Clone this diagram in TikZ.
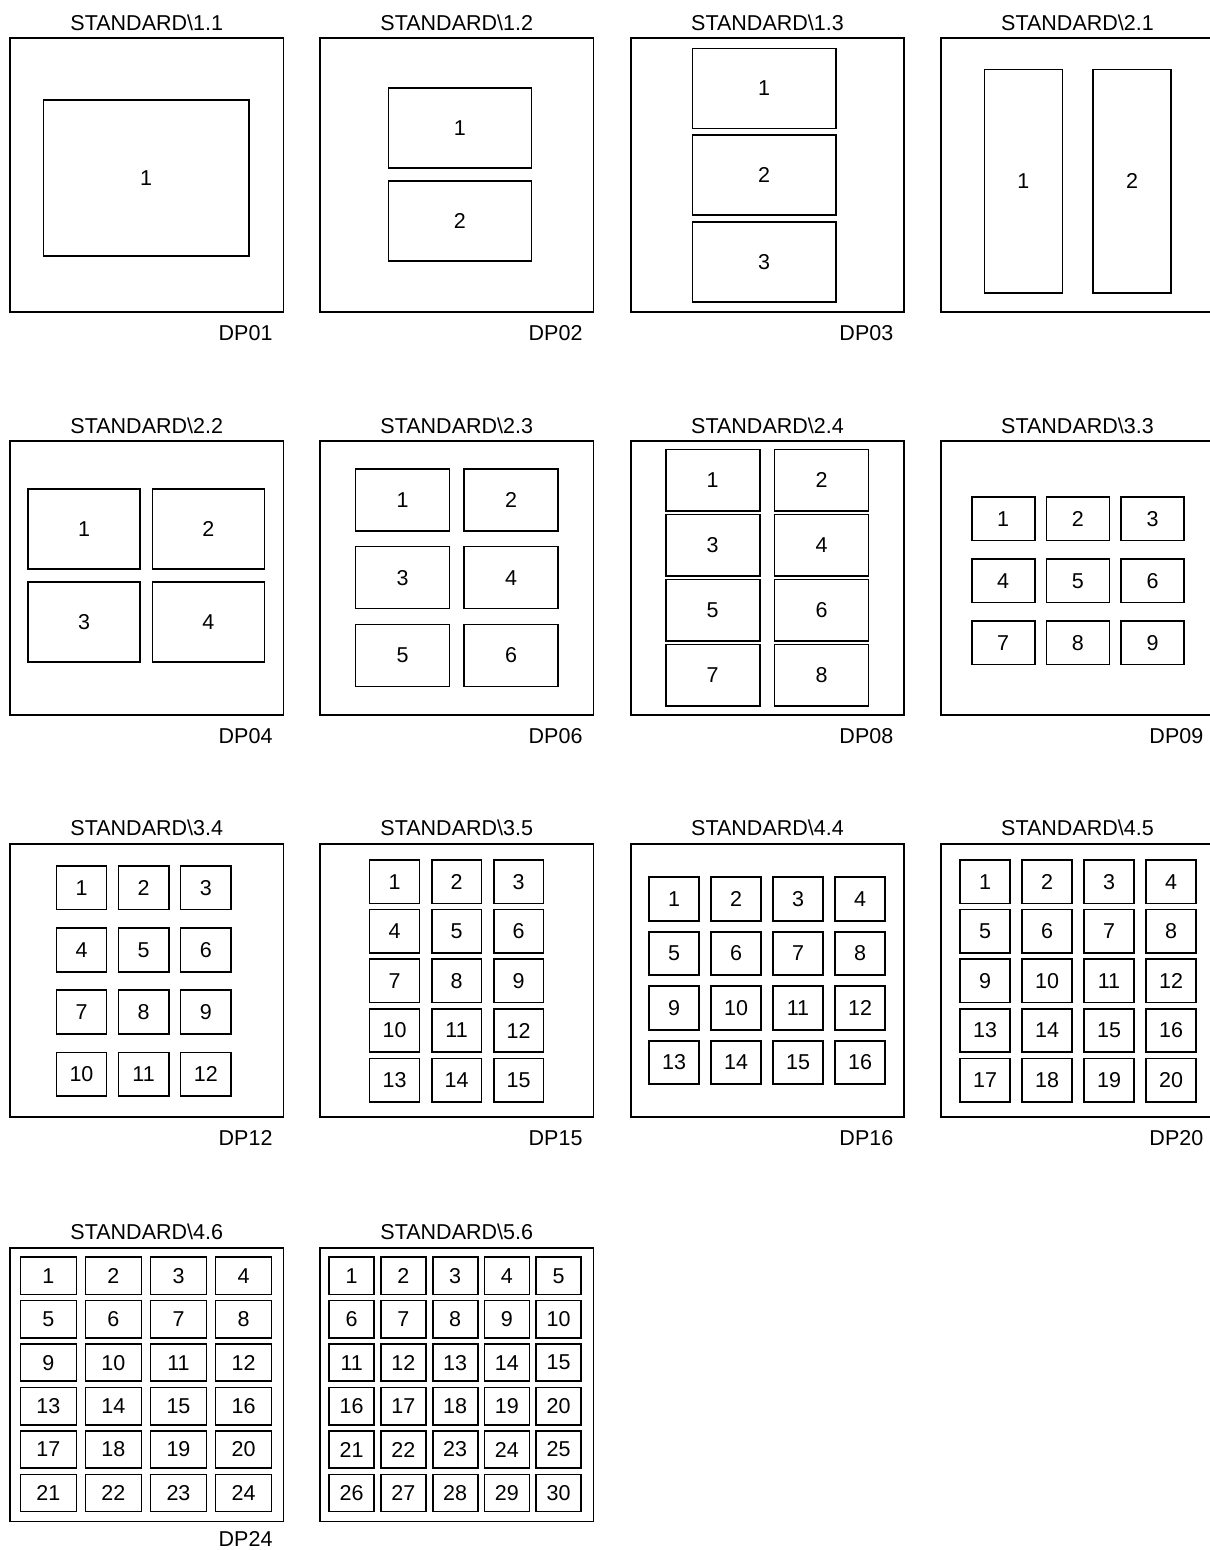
\documentclass[tikz,border=0pt]{standalone}
\usepackage{fontspec}
\setmainfont{Liberation Sans}
\usetikzlibrary{positioning}

\begin{document}
\begin{tikzpicture}[x=1pt, y=-1pt,
    every node/.style={font=\fontsize{21.5}{26}\selectfont, inner sep=0pt, outer sep=0pt},
    frame/.style={draw, line width=1.6pt, minimum width=273.5pt, minimum height=273.5pt},
    cell/.style 2 args={draw, line width=1.6pt, minimum width=#1, minimum height=#2}]
  \useasboundingbox (0,0) rectangle (1210,1550);
  \clip (0,0) rectangle (1210,1550);
  % frames and titles
  \foreach \f/\x/\y/\std in {11/146.75/175/1.1, 12/456.75/175/1.2, 13/767.5/175/1.3, 21/1077.5/175/2.1,
      22/146.75/578/2.2, 23/456.75/578/2.3, 24/767.5/578/2.4, 33/1077.5/578/3.3,
      34/146.75/980.5/3.4, 35/456.75/980.5/3.5, 44/767.5/980.5/4.4, 45/1077.5/980.5/4.5,
      46/146.75/1384.7/4.6, 56/456.75/1384.7/5.6} {
    \node[frame] (f\f) at (\x,\y) {};
    \node[above=8pt of f\f] (t\f) {STANDARD\textbackslash\std};
  }
  % plate names
  \foreach \f/\dp/\gap in {11/01/13.3, 12/02/13.3, 13/03/13.3, 22/04/13.3, 23/06/13.3, 24/08/13.3,
      33/09/13.3, 34/12/13.3, 35/15/13.3, 44/16/13.3, 45/20/13.3, 46/24/10.5}
    \node[below left=\gap pt and 11pt of f\f.south east] (d\f) {DP\dp};
  % cells: cols/rows, first centre, pitch, size
  \foreach \f/\nc/\nr/\xa/\dx/\ya/\dy/\w/\h in {
      11/1/1/146/0/178/0/205.4/155.7,
      12/1/2/459.8/0/127.7/93.1/143/80,
      13/1/3/764/0/88.3/86.7/143.4/80,
      21/2/1/1023.3/108.7/181/0/78/223.4,
      22/2/2/84/124.3/529/93/112/80,
      23/2/3/402.5/108.5/500/77.65/93.7/62,
      24/2/4/712.7/108.8/480.2/65/94/61.7,
      33/3/3/1003.2/74.65/518.8/61.95/63/43.3,
      34/3/4/81.5/62.15/887.8/62.13/50.3/43.7,
      35/3/5/394.5/62.1/881.7/49.6/49.7/43.3,
      44/4/4/674/62/899/54.5/50/43.5,
      45/4/5/985/62/881.7/49.6/50/43.3,
      46/4/6/48.3/65.1/1275.7/43.45/56/37.3,
      56/5/6/351.7/51.75/1275.7/43.45/45/37.3} {
    \foreach \j in {1,...,\nr}
      \foreach \i in {1,...,\nc} {
        \pgfmathtruncatemacro\k{(\j-1)*\nc+\i}
        \node[cell={\w}{\h}] (c\f-\k) at ({\xa+\dx*(\i-1)},{\ya+\dy*(\j-1)}) {\k};
      }
  }
\end{tikzpicture}
\end{document}
